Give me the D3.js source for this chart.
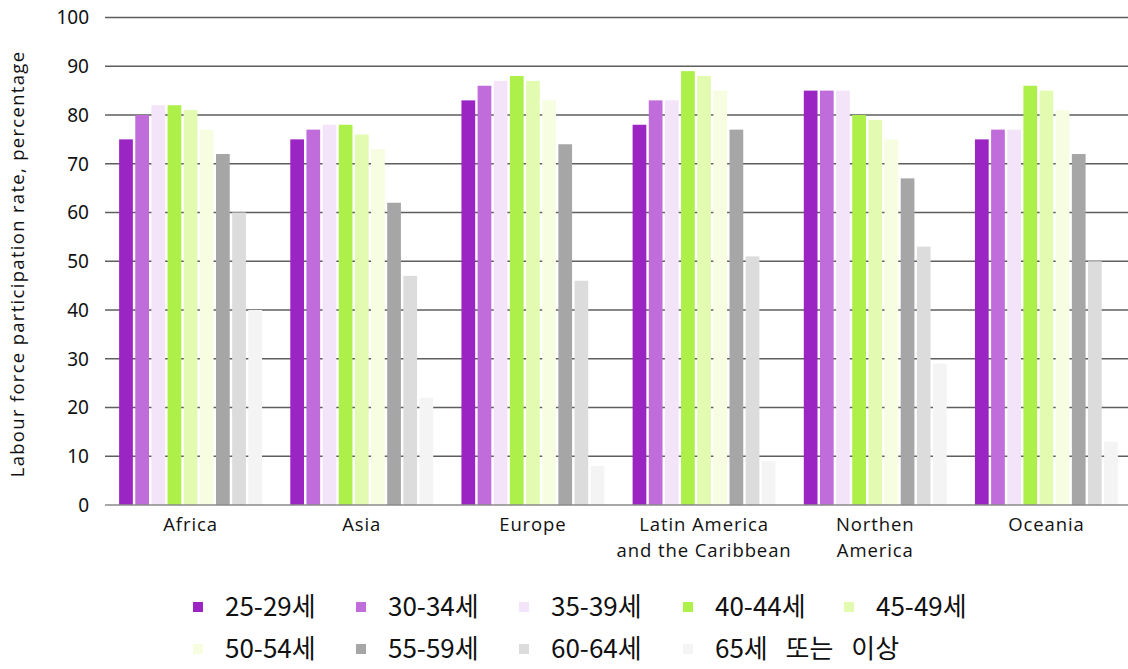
<!DOCTYPE html>
<html>
<head>
<meta charset="utf-8">
<script src="https://cdn.jsdelivr.net/npm/d3@7"></script>
<style>
  html, body { margin: 0; padding: 0; background: #ffffff; }
  svg { display: block; }
</style>
</head>
<body>
<svg id="chart" width="1128" height="669"></svg>
<script>
// Regions (x categories); "\n" splits a label onto two lines
const regions = ["Africa", "Asia", "Europe", "Latin America\nand the Caribbean", "Northen\nAmerica", "Oceania"];

// Age bands (series) and their colours
const ageGroups = ["25-29세", "30-34세", "35-39세", "40-44세", "45-49세", "50-54세", "55-59세", "60-64세", "65세 또는 이상"];
const ageColors = ["#9b25c2", "#c06cdb", "#f4e4f9", "#adf04a", "#e2fbb0", "#f6fde1", "#a6a6a6", "#dcdcdc", "#f4f4f4"];

// Labour force participation rate (%) per age band, one array per region
const africa   = [75, 80, 82, 82, 81, 77, 72, 60, 40];
const asia     = [75, 77, 78, 78, 76, 73, 62, 47, 22];
const europe   = [83, 86, 87, 88, 87, 83, 74, 46, 8];
const latinAm  = [78, 83, 83, 89, 88, 85, 77, 51, 9];
const northAm  = [85, 85, 85, 80, 79, 75, 67, 53, 29];
const oceania  = [75, 77, 77, 86, 85, 81, 72, 50, 13];
const seriesByRegion = [africa, asia, europe, latinAm, northAm, oceania];

// Y axis ticks
const yTicks = [0, 10, 20, 30, 40, 50, 60, 70, 80, 90, 100];

const svg = d3.select("#chart");

const plotLeft = 105, plotRight = 1132, plotTop = 17.5, plotBottom = 505;

const x0 = d3.scaleBand()
  .domain(regions)
  .range([plotLeft, plotRight])
  .paddingInner(0.165)
  .paddingOuter(0.0825);

const x1 = d3.scaleBand()
  .domain(ageGroups)
  .range([0, x0.bandwidth()])
  .paddingInner(0.15)
  .paddingOuter(0);

const y = d3.scaleLinear().domain([0, 100]).range([plotBottom, plotTop]);

const color = d3.scaleOrdinal().domain(ageGroups).range(ageColors);

// Horizontal grid lines (drawn under the bars)
svg.append("g")
  .selectAll("line")
  .data(yTicks.filter(t => t > 0))
  .join("line")
  .attr("x1", plotLeft)
  .attr("x2", 1128)
  .attr("y1", d => y(d))
  .attr("y2", d => y(d))
  .attr("stroke", "#5e5e5e")
  .attr("stroke-width", 1.4);

// Bars
const groups = svg.append("g")
  .selectAll("g")
  .data(regions.map((r, i) => ({ region: r, values: seriesByRegion[i] })))
  .join("g")
  .attr("transform", d => `translate(${x0(d.region)},0)`);

groups.selectAll("rect")
  .data(d => d.values.map((v, i) => ({ key: ageGroups[i], value: v })))
  .join("rect")
  .attr("x", d => x1(d.key))
  .attr("width", x1.bandwidth())
  .attr("y", d => y(d.value))
  .attr("height", d => y(0) - y(d.value))
  .attr("fill", d => color(d.key));

// Baseline
svg.append("line")
  .attr("x1", plotLeft)
  .attr("x2", 1128)
  .attr("y1", y(0))
  .attr("y2", y(0))
  .attr("stroke", "#8a8a8a")
  .attr("stroke-width", 1.5);

// Y axis tick labels
const yAxis = d3.axisLeft(y).tickValues(yTicks).tickSize(0).tickPadding(0);
const yG = svg.append("g")
  .attr("transform", `translate(89,0)`)
  .call(yAxis);
yG.select(".domain").remove();
yG.selectAll("text")
  .attr("font-family", "'Noto Sans', sans-serif")
  .attr("font-size", 19)
  .attr("fill", "#111")
  .attr("dy", "0.34em");

// X axis category labels (possibly two lines)
const xAxis = d3.axisBottom(x0).tickSize(0).tickFormat("");
const xG = svg.append("g")
  .attr("transform", `translate(0,${y(0)})`)
  .call(xAxis);
xG.select(".domain").remove();
xG.selectAll(".tick").each(function (d) {
  const lines = d.split("\n");
  const t = d3.select(this).append("text")
    .attr("text-anchor", "middle")
    .attr("font-family", "'Open Sans', sans-serif")
    .attr("font-size", 18.5)
    .attr("letter-spacing", "0.9px")
    .attr("fill", "#111");
  lines.forEach((ln, i) => {
    t.append("tspan").attr("x", 0).attr("y", 26 + i * 26).text(ln);
  });
});

// Y axis title
svg.append("text")
  .attr("transform", `translate(24,264) rotate(-90)`)
  .attr("text-anchor", "middle")
  .attr("font-family", "'Open Sans', sans-serif")
  .attr("font-size", 18.5)
  .attr("letter-spacing", "1.3px")
  .attr("fill", "#111")
  .text("Labour force participation rate, percentage");

// Legend: two rows of five columns
const legendCols = [193, 356, 519, 683, 844];
const legendRows = [607, 649];
const legend = svg.append("g")
  .selectAll("g")
  .data(ageGroups)
  .join("g")
  .attr("transform", (d, i) => `translate(${legendCols[i % 5]},${legendRows[Math.floor(i / 5)]})`);

legend.append("rect")
  .attr("x", 0)
  .attr("y", -5)
  .attr("width", 10)
  .attr("height", 10)
  .attr("fill", d => color(d));

legend.append("text")
  .attr("x", 32)
  .attr("y", 0)
  .attr("dy", "0.36em")
  .attr("font-family", "'Noto Sans CJK KR', sans-serif")
  .attr("font-size", 26)
  .attr("word-spacing", "12px")
  .attr("fill", "#111")
  .text(d => d);
</script>
</body>
</html>
